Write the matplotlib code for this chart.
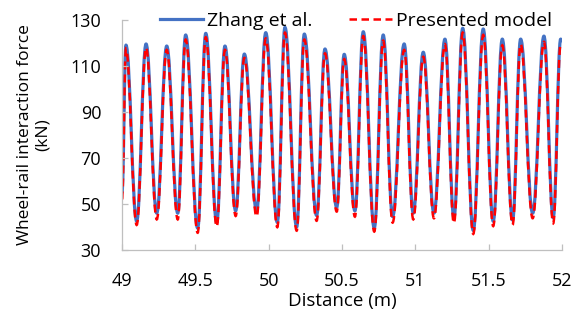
import matplotlib
matplotlib.use("Agg")
import matplotlib.pyplot as plt
from matplotlib.path import Path
from matplotlib.patches import PathPatch
from matplotlib.lines import Line2D

# ---- data (extrema) ----
peak_x = [49.027, 49.164, 49.305, 49.434, 49.571, 49.702, 49.834, 49.980, 50.111,
          50.243, 50.384, 50.515, 50.645, 50.781, 50.924, 51.054, 51.202, 51.323,
          51.463, 51.593, 51.718, 51.877, 51.991]
blue_peak = [119.1, 119.6, 118.7, 123.5, 124.2, 118.7, 115.2, 124.5, 126.8, 123.9,
             117.4, 115.1, 124.9, 123.5, 119.6, 116.0, 121.7, 126.4, 126.1, 121.7,
             121.7, 123.0, 121.7]
red_peak = [117.5, 118.0, 117.0, 121.5, 122.5, 117.0, 113.5, 122.0, 124.5, 121.5,
            115.5, 113.0, 123.0, 121.0, 117.0, 114.0, 119.5, 124.5, 123.5, 119.0,
            119.5, 120.5, 119.5]
trough_x = [49.100, 49.237, 49.380, 49.516, 49.646, 49.775, 49.918, 50.059, 50.191,
            50.327, 50.464, 50.588, 50.720, 50.845, 50.986, 51.127, 51.263, 51.395,
            51.531, 51.663, 51.800, 51.940]
blue_trough = [42.5, 46.0, 46.0, 39.5, 42.0, 47.0, 47.0, 42.0, 40.0, 45.0, 48.5,
               47.0, 39.5, 44.5, 46.0, 46.0, 44.0, 38.5, 42.5, 43.0, 46.0, 44.0]
red_trough = [40.9, 43.3, 43.3, 37.5, 40.1, 44.8, 44.5, 39.9, 38.4, 42.7, 46.7,
              44.5, 38.0, 41.9, 43.3, 43.8, 41.6, 37.0, 40.4, 40.9, 43.8, 41.6]
start_x, blue_start, red_start = 49.0, 55.0, 52.0
end_x, blue_end, red_end = 52.0, 121.0, 119.0

x_ticks = [49, 49.5, 50, 50.5, 51, 51.5, 52]
x_ticklabels = ["49", "49.5", "50", "50.5", "51", "51.5", "52"]
y_ticks = [30, 50, 70, 90, 110, 130]


def extrema(start_v, peaks, troughs, end_v):
    xs, ys = [start_x], [start_v]
    for i in range(len(peak_x)):
        xs.append(peak_x[i]); ys.append(peaks[i])
        if i < len(trough_x):
            xs.append(trough_x[i]); ys.append(troughs[i])
    xs.append(end_x); ys.append(end_v)
    return xs, ys


def smooth_path(xs, ys, k=0.4):
    verts = [(xs[0], ys[0])]
    codes = [Path.MOVETO]
    for i in range(1, len(xs)):
        dx = xs[i] - xs[i - 1]
        verts += [(xs[i - 1] + k * dx, ys[i - 1]), (xs[i] - k * dx, ys[i]), (xs[i], ys[i])]
        codes += [Path.CURVE4] * 3
    return Path(verts, codes)


plt.rcParams['font.family'] = ['Open Sans', 'DejaVu Sans']
fig = plt.figure(figsize=(5.74, 3.2), dpi=100)
ax = fig.add_axes([122 / 574, 1 - 250 / 320, 440 / 574, 230 / 320])

blue = "#4472C4"
red = "#FF0000"
bx, by = extrema(blue_start, blue_peak, blue_trough, blue_end)
rx, ry = extrema(red_start, red_peak, red_trough, red_end)
ax.add_patch(PathPatch(smooth_path(bx, by), fill=False, edgecolor=blue, lw=2.3,
                       capstyle='round', joinstyle='round'))
ax.add_patch(PathPatch(smooth_path(rx, ry), fill=False, edgecolor=red, lw=1.8,
                       linestyle=(0, (3.2, 2.0))))

ax.set_xlim(49, 52)
ax.set_ylim(30, 130)
ax.set_xticks(x_ticks)
ax.set_xticklabels(x_ticklabels)
ax.set_yticks(y_ticks)

gray = "#BFBFBF"
for s in ["top", "right"]:
    ax.spines[s].set_visible(False)
for s in ["left", "bottom"]:
    ax.spines[s].set_color(gray)
    ax.spines[s].set_linewidth(0.9)
ax.tick_params(axis='both', direction='in', color=gray, length=4, width=0.9,
               labelsize=13, labelcolor="#000000")
ax.tick_params(axis='x', pad=16)
ax.tick_params(axis='y', pad=15)

ax.set_xlabel("Distance (m)", fontsize=13.5, labelpad=1)
ax.set_ylabel("Wheel-rail interaction force\n(kN)", fontsize=12.5, labelpad=14,
              linespacing=1.15)

handles = [Line2D([], [], color=blue, lw=2.3),
           Line2D([], [], color=red, lw=1.8, linestyle=(0, (3.0, 1.8)))]
leg = fig.legend(handles, ["Zhang et al.", "Presented model"], loc='center left',
                 bbox_to_anchor=(160 / 574, 1 - 21 / 320), ncol=2, frameon=False,
                 fontsize=14, handlelength=2.2, handletextpad=0.2, columnspacing=1.9,
                 borderaxespad=0, borderpad=0)

fig.savefig("out.png", dpi=100)
